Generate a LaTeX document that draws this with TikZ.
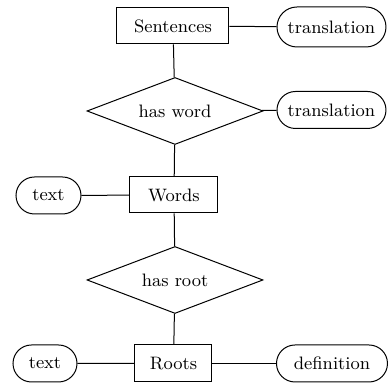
\documentclass[tikz,border=0pt]{standalone}
\usetikzlibrary{shapes.geometric,shapes.misc}
\begin{document}
\begin{tikzpicture}[x=0.5pt,y=0.5pt,line width=0.5pt,
	entity/.style={draw,rectangle,inner sep=0pt,font=\small},
	attrib/.style={draw,rounded rectangle,inner sep=0pt,minimum height=19pt,font=\small},
	relation/.style={draw,diamond,aspect=2.6,inner sep=0pt,minimum width=88pt,minimum height=33.5pt,font=\small}]
		\useasboundingbox (0,0) rectangle (388,383);
		\node[entity,minimum width=56pt,minimum height=18pt] (sentences) at (173,357) {Sentences};
		\node[attrib,minimum width=54.5pt,minimum height=20pt] (trans1) at (331.5,356) {translation};
		\node[relation] (hasword) at (175,272) {has word};
		\node[attrib,minimum width=54.5pt,minimum height=18.5pt] (trans2) at (331.5,273) {translation};
		\node[entity,minimum width=44pt,minimum height=18pt] (words) at (174,188) {Words};
		\node[attrib,minimum width=32.5pt,minimum height=18.5pt] (text1) at (48.5,187.5) {text};
		\node[relation] (hasroot) at (175,103) {has root};
		\node[entity,minimum width=38.5pt,minimum height=18.5pt] (roots) at (173.5,19.5) {Roots};
		\node[attrib,minimum width=32pt,minimum height=18.5pt] (text2) at (45,19.5) {text};
		\node[attrib,minimum width=55.5pt,minimum height=18.5pt] (defn) at (332,19.5) {definition};
		\draw (sentences) -- (trans1);
		\draw (sentences) -- (hasword);
		\draw (hasword) -- (trans2);
		\draw (hasword) -- (words);
		\draw (text1) -- (words);
		\draw (words) -- (hasroot);
		\draw (hasroot) -- (roots);
		\draw (text2) -- (roots);
		\draw (roots) -- (defn);
		
		\end{tikzpicture}
\end{document}
